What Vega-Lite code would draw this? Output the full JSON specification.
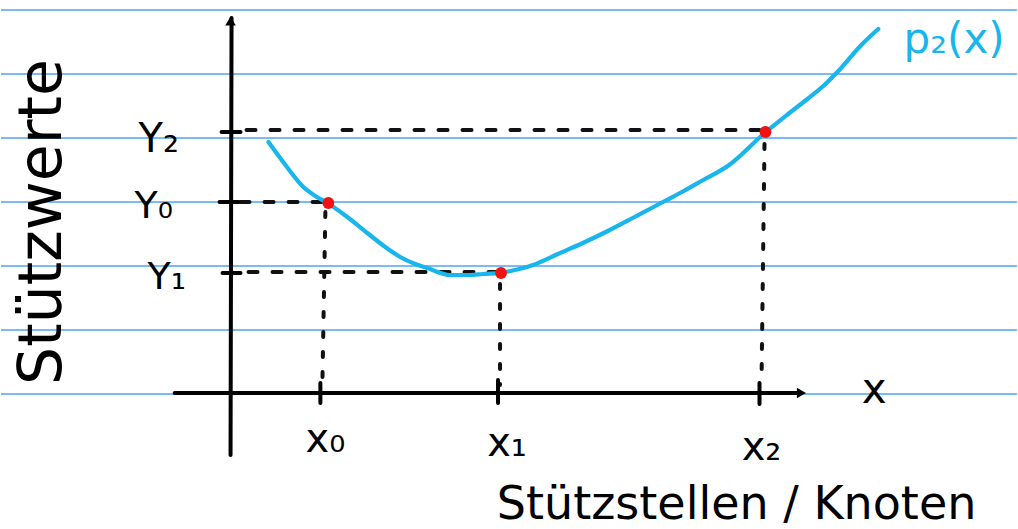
{
  "$schema": "https://vega.github.io/schema/vega-lite/v6.json",
  "width": 1018,
  "height": 529,
  "padding": 0,
  "autosize": {"type": "fit", "contains": "padding"},
  "background": "white",
  "config": {"view": {"stroke": null}},
  "datasets": {
    "ruled": [
      {"x": 0, "x2": 1018, "y": 10, "y2": 10},
      {"x": 0, "x2": 1018, "y": 74, "y2": 74},
      {"x": 0, "x2": 1018, "y": 138, "y2": 138},
      {"x": 0, "x2": 1018, "y": 202, "y2": 202},
      {"x": 0, "x2": 1018, "y": 266, "y2": 266},
      {"x": 0, "x2": 1018, "y": 330, "y2": 330},
      {"x": 0, "x2": 1018, "y": 394, "y2": 394}
    ],
    "axes": [
      {"x": 231, "x2": 230, "y": 18, "y2": 455},
      {"x": 174, "x2": 800, "y": 393, "y2": 393},
      {"x": 221, "x2": 240, "y": 132, "y2": 132},
      {"x": 219, "x2": 238, "y": 202, "y2": 202},
      {"x": 222, "x2": 240, "y": 273, "y2": 273},
      {"x": 320, "x2": 320, "y": 383, "y2": 403},
      {"x": 498, "x2": 498, "y": 380, "y2": 403},
      {"x": 760, "x2": 760, "y": 383, "y2": 404}
    ],
    "hguides": [
      {"x": 246, "x2": 760, "y": 130, "y2": 130},
      {"x": 240, "x2": 322, "y": 202, "y2": 202},
      {"x": 248, "x2": 497, "y": 272, "y2": 272}
    ],
    "vguides": [
      {"x": 325, "x2": 322, "y": 212, "y2": 385},
      {"x": 500, "x2": 500, "y": 284, "y2": 385},
      {"x": 765, "x2": 762, "y": 144, "y2": 383}
    ],
    "curve": [
      {"x": 268, "y": 142}, {"x": 285, "y": 165}, {"x": 303, "y": 187},
      {"x": 315, "y": 196}, {"x": 327, "y": 203}, {"x": 347, "y": 217},
      {"x": 367, "y": 233}, {"x": 385, "y": 247}, {"x": 400, "y": 257},
      {"x": 415, "y": 264}, {"x": 427, "y": 268}, {"x": 450, "y": 275},
      {"x": 470, "y": 275}, {"x": 483, "y": 274}, {"x": 500, "y": 273},
      {"x": 515, "y": 270}, {"x": 533, "y": 265}, {"x": 558, "y": 254},
      {"x": 583, "y": 243}, {"x": 608, "y": 231}, {"x": 633, "y": 218},
      {"x": 650, "y": 209}, {"x": 667, "y": 200}, {"x": 684, "y": 191},
      {"x": 700, "y": 182}, {"x": 731, "y": 164}, {"x": 764, "y": 134},
      {"x": 790, "y": 113}, {"x": 808, "y": 99}, {"x": 825, "y": 85},
      {"x": 839, "y": 71}, {"x": 862, "y": 45}, {"x": 879, "y": 29}
    ],
    "nodes": [
      {"x": 328, "y": 203},
      {"x": 501, "y": 273},
      {"x": 766, "y": 132}
    ],
    "arrows": [
      {"x": 230, "y": 21, "shape": "triangle-up"},
      {"x": 802, "y": 393, "shape": "triangle-right"}
    ],
    "labels": [
      {"x": 158, "y": 140, "text": "Y₂", "size": 40, "angle": 0},
      {"x": 153, "y": 207, "text": "Y₀", "size": 38, "angle": 0},
      {"x": 166, "y": 278, "text": "Y₁", "size": 38, "angle": 0},
      {"x": 325, "y": 440, "text": "x₀", "size": 40, "angle": 0},
      {"x": 507, "y": 444, "text": "x₁", "size": 40, "angle": 0},
      {"x": 762, "y": 448, "text": "x₂", "size": 40, "angle": 0},
      {"x": 875, "y": 390, "text": "x", "size": 42, "angle": 0},
      {"x": 737, "y": 505, "text": "Stützstellen / Knoten", "size": 46, "angle": 0},
      {"x": 42, "y": 222, "text": "Stützwerte", "size": 60, "angle": 270}
    ],
    "curvelabel": [
      {"x": 955, "y": 40, "text": "p₂(x)"}
    ]
  },
  "encoding": {
    "x": {"field": "x", "type": "quantitative", "scale": {"domain": [0, 1018], "nice": false, "zero": false}, "axis": null},
    "y": {"field": "y", "type": "quantitative", "scale": {"domain": [0, 529], "nice": false, "zero": false, "reverse": true}, "axis": null}
  },
  "layer": [
    {
      "data": {"name": "ruled"},
      "mark": {"type": "rule", "color": "#4ea4f3", "strokeWidth": 1.5},
      "encoding": {"x2": {"field": "x2"}, "y2": {"field": "y2"}}
    },
    {
      "data": {"name": "hguides"},
      "mark": {"type": "rule", "color": "#111111", "strokeWidth": 4, "strokeDash": [9, 15], "strokeCap": "round"},
      "encoding": {"x2": {"field": "x2"}, "y2": {"field": "y2"}}
    },
    {
      "data": {"name": "vguides"},
      "mark": {"type": "rule", "color": "#111111", "strokeWidth": 4, "strokeDash": [5, 15], "strokeCap": "round"},
      "encoding": {"x2": {"field": "x2"}, "y2": {"field": "y2"}}
    },
    {
      "data": {"name": "axes"},
      "mark": {"type": "rule", "color": "#000000", "strokeWidth": 4, "strokeCap": "round"},
      "encoding": {"x2": {"field": "x2"}, "y2": {"field": "y2"}}
    },
    {
      "data": {"name": "arrows"},
      "mark": {"type": "point", "filled": true, "color": "#000000", "size": 110, "opacity": 1},
      "encoding": {"shape": {"field": "shape", "type": "nominal", "scale": null}}
    },
    {
      "data": {"name": "curve"},
      "mark": {"type": "line", "color": "#18b6ec", "strokeWidth": 4.2, "interpolate": "monotone", "strokeCap": "round"},
      "encoding": {"order": {"field": "x", "type": "quantitative"}}
    },
    {
      "data": {"name": "nodes"},
      "mark": {"type": "point", "filled": true, "shape": "circle", "color": "#f01212", "size": 140, "opacity": 1}
    },
    {
      "data": {"name": "labels"},
      "mark": {"type": "text", "color": "#000000", "font": "DejaVu Sans", "align": "center", "baseline": "middle"},
      "encoding": {
        "text": {"field": "text"},
        "size": {"field": "size", "type": "quantitative", "scale": null},
        "angle": {"field": "angle", "type": "quantitative", "scale": null}
      }
    },
    {
      "data": {"name": "curvelabel"},
      "mark": {"type": "text", "color": "#18b6ec", "font": "DejaVu Sans", "fontSize": 42, "align": "center", "baseline": "middle"},
      "encoding": {"text": {"field": "text"}}
    }
  ]
}
